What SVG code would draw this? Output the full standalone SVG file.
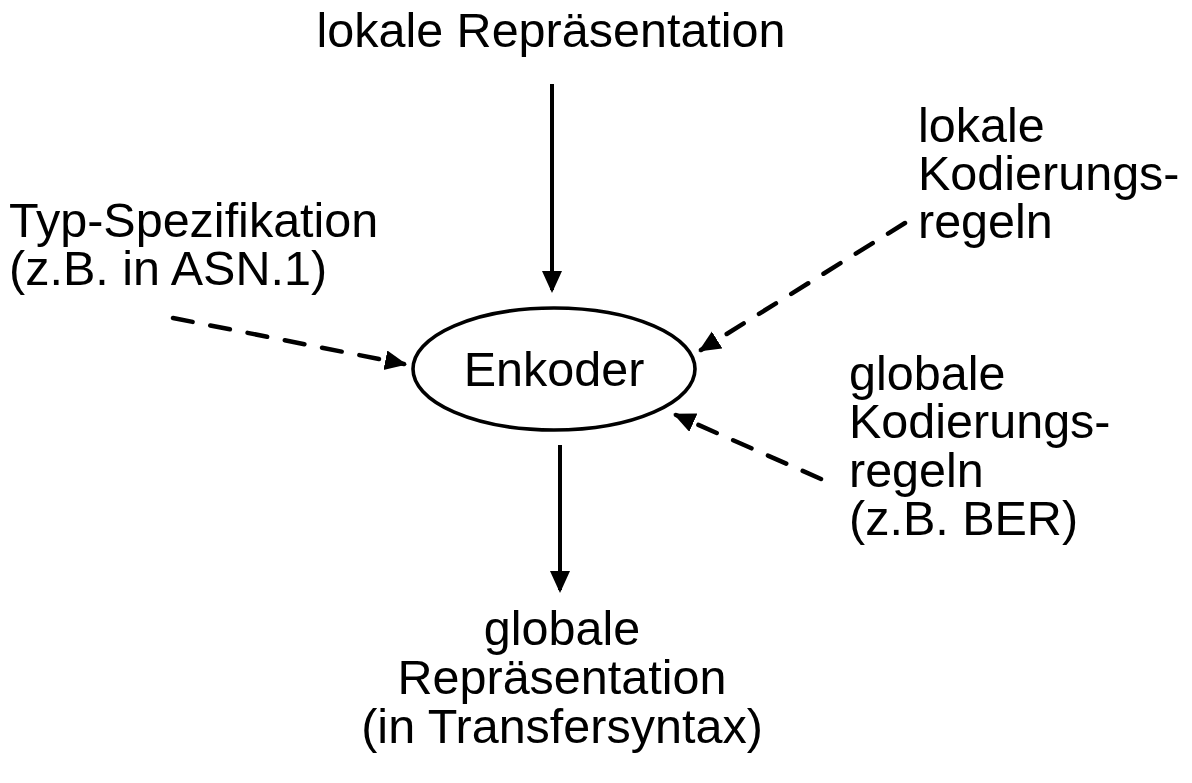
<svg xmlns="http://www.w3.org/2000/svg" width="1192" height="783" viewBox="0 0 1192 783">
<style>
text{font-family:"Liberation Sans",Arial,sans-serif;font-size:48.5px;fill:#000}
.solid{stroke:#000;stroke-width:4;fill:none;marker-end:url(#ah)}
.dash{stroke:#000;stroke-width:4.5;fill:none;stroke-dasharray:20 18;stroke-linecap:round;marker-end:url(#ah)}
</style>
<defs>
<marker id="ah" markerUnits="userSpaceOnUse" markerWidth="24" markerHeight="22" refX="19" refY="10" orient="auto">
<path d="M0,0 L22,10 L0,20 z" fill="#000"/>
</marker>
</defs>
<rect width="1192" height="783" fill="#fff"/>
<g id="connectors">
<line class="solid" x1="552" y1="84" x2="552" y2="290"/>
<line class="solid" x1="560" y1="445" x2="560" y2="590"/>
<line class="dash" x1="173" y1="318" x2="404" y2="364"/>
<line class="dash" x1="905" y1="223" x2="701" y2="350"/>
<line class="dash" x1="821" y1="479" x2="676" y2="415"/>
</g>
<g id="enkoder">
<ellipse cx="554" cy="369" rx="141" ry="61" fill="#fff" stroke="#000" stroke-width="3.6"/>
<text x="554" y="386" text-anchor="middle">Enkoder</text>
</g>
<g id="lokale-repr">
<text x="551" y="47" text-anchor="middle">lokale Repräsentation</text>
</g>
<g id="typ-spez">
<text x="9" y="237">Typ-Spezifikation</text>
<text x="9" y="285">(z.B. in ASN.1)</text>
</g>
<g id="lokale-kod">
<text x="918" y="142">lokale</text>
<text x="918" y="190">Kodierungs-</text>
<text x="918" y="238">regeln</text>
</g>
<g id="globale-kod">
<text x="849" y="390">globale</text>
<text x="849" y="438">Kodierungs-</text>
<text x="849" y="487">regeln</text>
<text x="849" y="535">(z.B. BER)</text>
</g>
<g id="globale-repr">
<text x="562" y="645" text-anchor="middle">globale</text>
<text x="562" y="694" text-anchor="middle">Repräsentation</text>
<text x="562" y="743" text-anchor="middle">(in Transfersyntax)</text>
</g>
</svg>
